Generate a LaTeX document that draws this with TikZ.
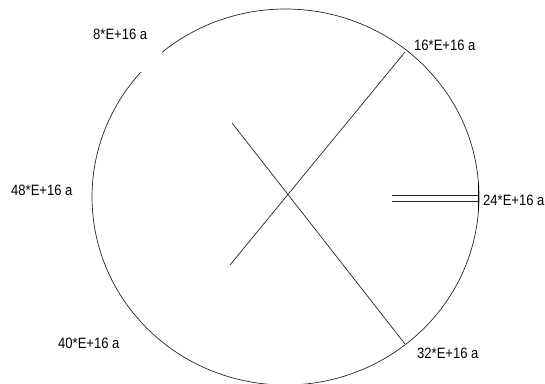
\documentclass[tikz,border=0pt]{standalone}
\usepackage{fontspec}
\setmainfont{Liberation Sans}
\begin{document}
\begin{tikzpicture}[x=1pt,y=-1pt,
  thin line/.style={line width=0.7pt, draw=black!85},
  lbl/.style={anchor=west, inner sep=0pt, font=\fontsize{15}{15}\selectfont, xscale=0.87}]
\useasboundingbox (0,0) rectangle (545,383);
% ring with a gap at top-left
\coordinate (c) at (285.5,197);
\draw[thin line] (c) ++(230.4:193.5 and 188) arc[start angle=230.4, end angle=581.6, x radius=193.5, y radius=188];
% crossing lines
\coordinate (a1) at (405,52);
\coordinate (a2) at (230,265);
\coordinate (b1) at (232,123);
\coordinate (b2) at (405,344);
\draw[thin line] (a1) -- (a2);
\draw[thin line] (b1) -- (b2);
% double line at right
\coordinate (d1) at (392,195);
\coordinate (d2) at (478,195);
\coordinate (e1) at (392,201);
\coordinate (e2) at (478,201);
\draw[thin line] (d1) -- (d2);
\draw[thin line] (e1) -- (e2);
\coordinate (v1) at (478.5,184);
\coordinate (v2) at (478.5,211);
\draw[line width=1pt] (v1) -- (v2);
% labels
\node[lbl] (l8) at (93,34) {8*E+16 a};
\node[lbl] (l16) at (414,45) {16*E+16 a};
\node[lbl] (l24) at (483,200) {24*E+16 a};
\node[lbl] (l48) at (11,190) {48*E+16 a};
\node[lbl] (l40) at (58,343) {40*E+16 a};
\node[lbl] (l32) at (417,353) {32*E+16 a};
\end{tikzpicture}
\end{document}
